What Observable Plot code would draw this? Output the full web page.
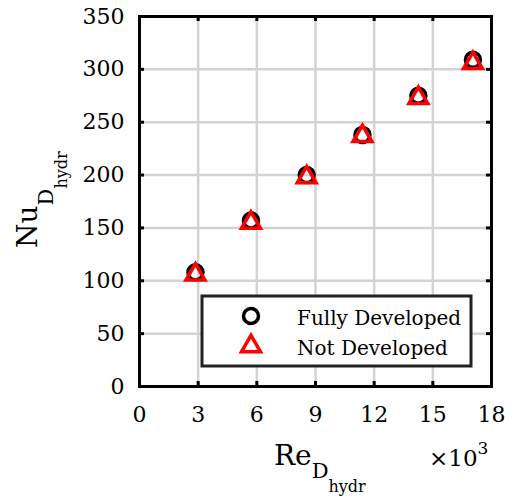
<!DOCTYPE html>
<html>
<head>
<meta charset="utf-8">
<script src="https://cdn.jsdelivr.net/npm/d3@7"></script>
<script src="https://cdn.jsdelivr.net/npm/@observablehq/plot@0.6"></script>
<style>
html,body{margin:0;padding:0;background:#fff;}
</style>
</head>
<body>
<div id="chart"></div>
<script>
// Data (Re in thousands)
const reFully = [2.86, 5.70, 8.55, 11.40, 14.26, 17.05];
const nuFully = [108, 157, 200, 238, 275, 309];
const reNot = [2.86, 5.70, 8.55, 11.40, 14.26, 17.05];
const nuNot = [108, 157, 200, 239, 275, 308];
const xTicks = [0, 3, 6, 9, 12, 15, 18];
const yTicks = [0, 50, 100, 150, 200, 250, 300, 350];
const seriesNames = ["Fully Developed", "Not Developed"];

const fully = reFully.map((x, i) => ({x, y: nuFully[i]}));
const notDev = reNot.map((x, i) => ({x, y: nuNot[i]}));

const W = 514, H = 502;
const mL = 139, mR = 23, mT = 16, mB = 116;
const frameH = H - mT - mB, frameW = W - mL - mR;
const tickLen = 5;
const font = "DejaVu Serif";

// MATLAB-like upward triangle, centred on its bounding box
const triUp = {
  draw(context, size) {
    const r = Math.sqrt(size / Math.PI);
    const s = r * 2.7, h = s * Math.sqrt(3) / 2;
    context.moveTo(0, -h / 2 - 0.5);
    context.lineTo(s / 2, h / 2 - 0.5);
    context.lineTo(-s / 2, h / 2 - 0.5);
    context.closePath();
  }
};

const plot = Plot.plot({
  width: W, height: H,
  marginLeft: mL, marginRight: mR, marginTop: mT, marginBottom: mB,
  style: {fontFamily: font, background: "white"},
  x: {domain: [0, 18]},
  y: {domain: [0, 350]},
  marks: [
    Plot.gridX(xTicks, {stroke: "#d3d3d3", strokeOpacity: 1, strokeWidth: 2.5}),
    Plot.gridY(yTicks, {stroke: "#d3d3d3", strokeOpacity: 1, strokeWidth: 2.5}),
    // inner ticks (MATLAB box style)
    Plot.ruleX(xTicks, {x: d => d, insetTop: frameH - tickLen, stroke: "black", strokeWidth: 3}),
    Plot.ruleX(xTicks, {x: d => d, insetBottom: frameH - tickLen, stroke: "black", strokeWidth: 3}),
    Plot.ruleY(yTicks, {y: d => d, insetRight: frameW - tickLen, stroke: "black", strokeWidth: 3}),
    Plot.ruleY(yTicks, {y: d => d, insetLeft: frameW - tickLen, stroke: "black", strokeWidth: 3}),
    Plot.axisX(xTicks, {anchor: "bottom", tickSize: 0, tickPadding: 20, fontSize: 22, label: null, fill: "black"}),
    Plot.axisY(yTicks, {anchor: "left", tickSize: 0, tickPadding: 15, fontSize: 22, label: null, fill: "black"}),
    Plot.frame({stroke: "black", strokeWidth: 3}),
    Plot.dot(fully, {x: "x", y: "y", r: 7.5, stroke: "black", strokeWidth: 3.5, fill: "none"}),
    Plot.dot(notDev, {x: "x", y: "y", symbol: triUp, r: 7, stroke: "red", strokeWidth: 3.5, fill: "none"})
  ]
});

document.getElementById("chart").appendChild(plot);
const svg = d3.select(plot);

// Y label: Nu_{D_{hydr}}
const yl = svg.append("text")
  .attr("transform", "translate(37,248) rotate(-90)")
  .attr("text-anchor", "start")
  .attr("font-family", font).attr("fill", "black");
yl.append("tspan").attr("font-size", 28).text("Nu");
yl.append("tspan").attr("font-size", 21).attr("dy", 16).text("D");
yl.append("tspan").attr("font-size", 16).attr("dy", 14).text("hydr");

// X label: Re_{D_{hydr}}
const xl = svg.append("text")
  .attr("x", 274).attr("y", 465)
  .attr("text-anchor", "start")
  .attr("font-family", font).attr("fill", "black");
xl.append("tspan").attr("font-size", 28).text("Re");
xl.append("tspan").attr("font-size", 21).attr("dy", 13).text("D");
xl.append("tspan").attr("font-size", 16).attr("dy", 14).text("hydr");

// exponent
const ex = svg.append("text")
  .attr("x", 429).attr("y", 466)
  .attr("text-anchor", "start")
  .attr("font-family", font).attr("fill", "black");
ex.append("tspan").attr("font-size", 23).text("×10");
ex.append("tspan").attr("font-size", 17).attr("dy", -12).text("3");

// Legend
const lg = svg.append("g").attr("text-anchor", "start");
lg.append("rect").attr("x", 202).attr("y", 296).attr("width", 269).attr("height", 70)
  .attr("fill", "white").attr("stroke", "#222").attr("stroke-width", 3);
lg.append("circle").attr("cx", 251).attr("cy", 316).attr("r", 7.5)
  .attr("fill", "none").attr("stroke", "black").attr("stroke-width", 3.5);
lg.append("path").attr("transform", "translate(251,344)")
  .attr("d", d3.symbol(triUp, Math.PI * 49)())
  .attr("fill", "none").attr("stroke", "red").attr("stroke-width", 3.5);
lg.append("text").attr("x", 297).attr("y", 325).attr("font-family", font).attr("font-size", 20)
  .attr("fill", "black").text(seriesNames[0]);
lg.append("text").attr("x", 297).attr("y", 355).attr("font-family", font).attr("font-size", 20)
  .attr("fill", "black").text(seriesNames[1]);
</script>
</body>
</html>
